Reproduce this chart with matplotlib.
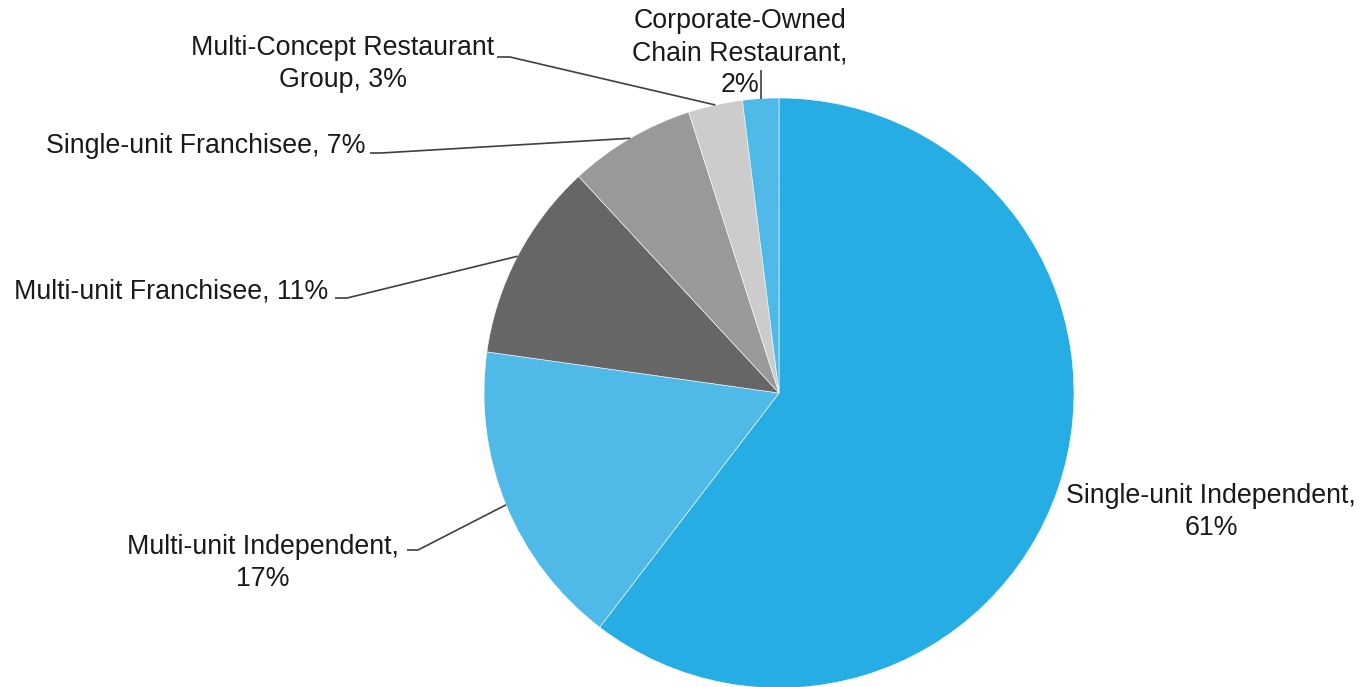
import numpy as np
import matplotlib
matplotlib.use("Agg")
from matplotlib import pyplot as plt

# restaurant ownership mix
categories = ["Single-unit Independent", "Multi-unit Independent", "Multi-unit Franchisee",
              "Single-unit Franchisee", "Multi-Concept Restaurant Group",
              "Corporate-Owned Chain Restaurant"]
shares = [61, 17, 11, 7, 3, 2]
label_texts = ["Single-unit Independent,\n61%", "Multi-unit Independent,\n17%",
               "Multi-unit Franchisee, 11%", "Single-unit Franchisee, 7%",
               "Multi-Concept Restaurant\nGroup, 3%", "Corporate-Owned\nChain Restaurant,\n2%"]
colors = ["#26ade3", "#4fbae8", "#666666", "#999999", "#cccccc", "#4fbae8"]

W, H = 1362, 687
CX, CY, R = 779, 393, 295

# label placement (x, y, ha) and leader elbow points, in pixel space
# (an elbow x of None means straight up from the wedge tip)
label_pos = [(1211, 512, "center"), (263, 563, "center"), (328, 292, "right"),
             (365, 146, "right"), (343, 64, "center"), (740, 53, "center")]
leaders = [None, [(407, 550), (418, 550)], [(335, 298), (347, 298)],
           [(370, 153), (381, 153)], [(497, 57), (510, 57)], [(None, 70)]]

plt.rcParams["font.family"] = ["Liberation Sans", "DejaVu Sans"]

fig = plt.figure(figsize=(W / 100, H / 100), dpi=100)
ax = fig.add_axes([0, 0, 1, 1])

# y axis runs downward, so counterclockwise in data is clockwise on screen
wedges, _ = ax.pie(shares, colors=colors, startangle=-90, counterclock=True,
                   center=(CX, CY), radius=R, frame=True,
                   wedgeprops=dict(edgecolor="white", linewidth=0.4))
ax.set_xlim(0, W)
ax.set_ylim(H, 0)
ax.set_aspect("equal")
ax.axis("off")

for w, txt, (x, y, ha), lead in zip(wedges, label_texts, label_pos, leaders):
    ax.text(x, y, txt, ha=ha, va="center", multialignment="center",
            fontsize=19.3, color="#1a1a1a", linespacing=1.3)
    if lead is None:
        continue
    mid = np.deg2rad((w.theta1 + w.theta2) / 2)
    tip = (CX + R * np.cos(mid), CY + R * np.sin(mid))
    pts = [(tip[0] if px is None else px, py) for px, py in lead] + [tip]
    ax.plot([p[0] for p in pts], [p[1] for p in pts], color="#404040", lw=1.2,
            solid_capstyle="butt")

fig.savefig("out.png", dpi=100)
